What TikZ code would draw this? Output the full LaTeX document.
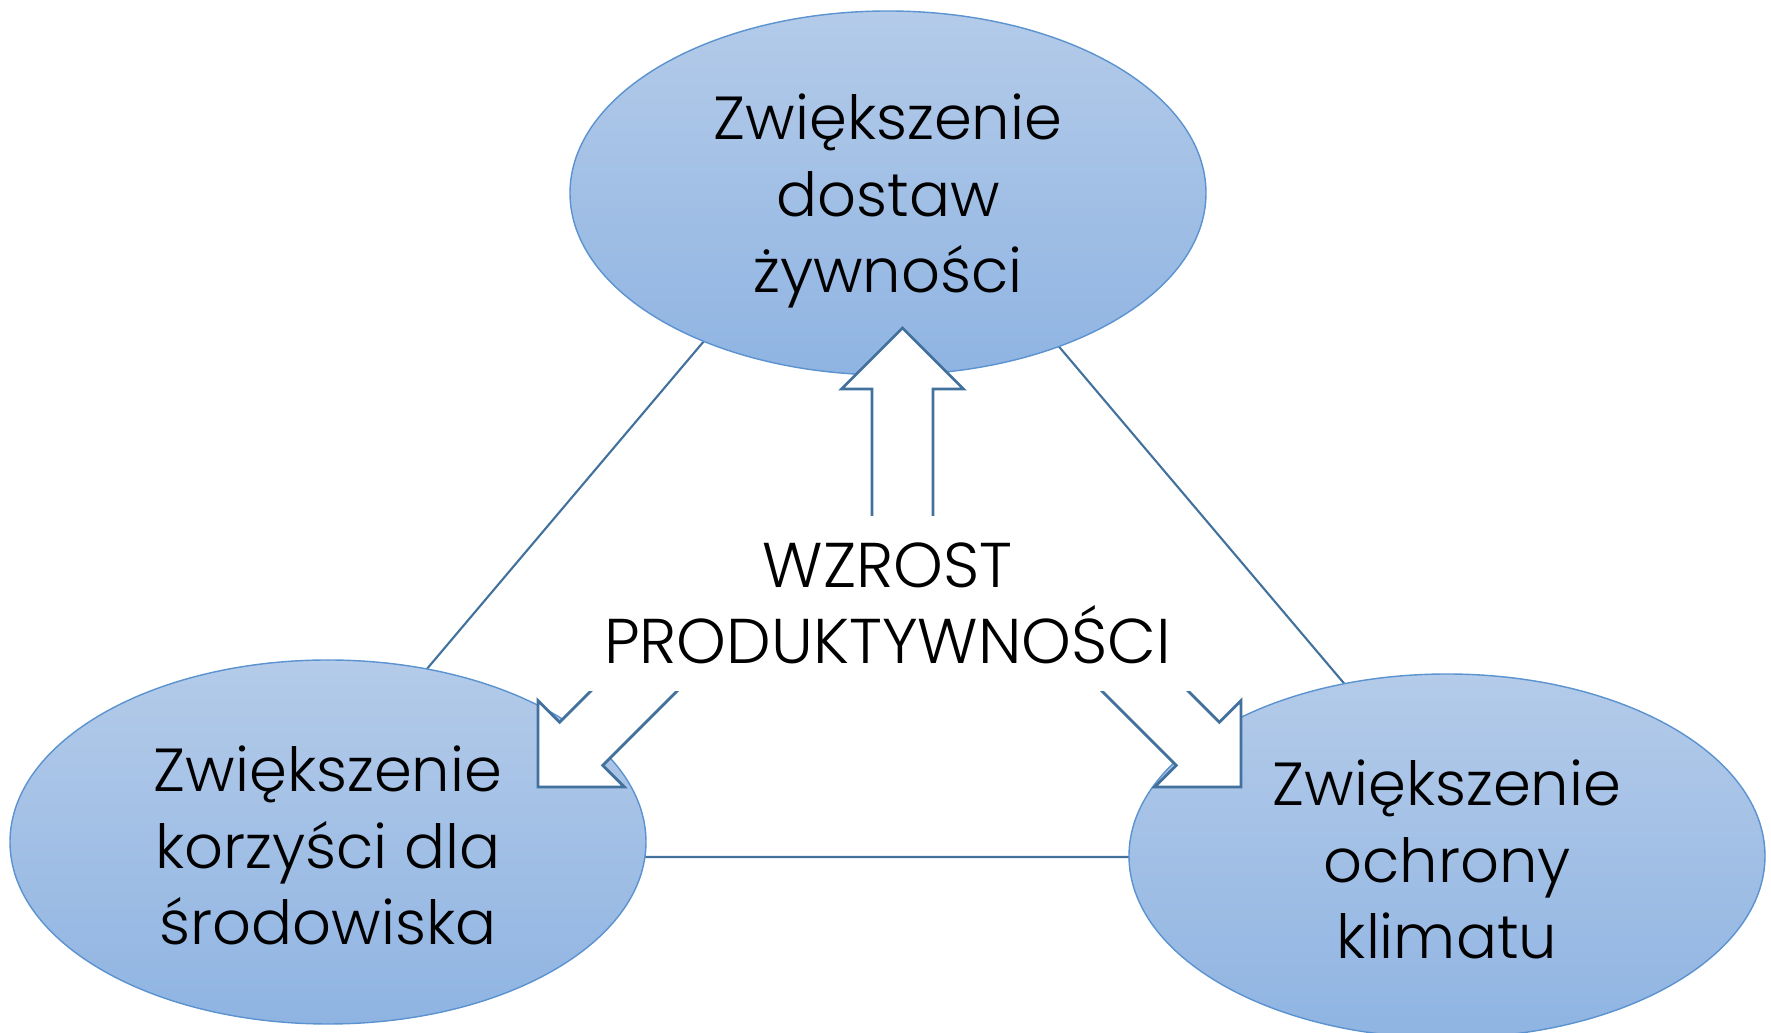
\documentclass[tikz,border=0pt]{standalone}
\usepackage{fontspec}
\setmainfont{Poppins}[UprightFont=* Light]
\usetikzlibrary{calc,shapes.geometric}
\definecolor{ovaltop}{RGB}{180,203,233}
\definecolor{ovalbot}{RGB}{143,180,226}
\definecolor{ovaledge}{RGB}{91,146,208}
\definecolor{steel}{RGB}{65,113,156}

\begin{document}
\begin{tikzpicture}
\tikzstyle{goal}=[ellipse,draw=ovaledge,line width=0.4pt,top color=ovaltop,bottom color=ovalbot,minimum width=6.36cm,minimum height=3.64cm,inner sep=0pt]
\tikzstyle{goaltext}=[align=center,inner sep=0pt,font=\fontsize{17.3}{21.8}\selectfont]

\tikzstyle{blockarrow}=[draw=steel,fill=white,line width=0.8pt,line join=miter]

\tikzstyle{link}=[draw=steel,line width=0.6pt]

\useasboundingbox (0,0) rectangle (17.71,10.33);

% triangle behind the ovals
\coordinate (apex) at (8.79,8.99);
\coordinate (baseL) at (2.68,1.76);
\coordinate (baseR) at (14.91,1.76);
\draw [link] (apex) -- (baseL) -- (baseR) -- cycle;

\node (food) at (8.88,8.40) [goal,label={[goaltext,yshift=-0.08cm]center:{Zwiększenie\\dostaw\\żywności}}] {};
\node (env) at (3.28,1.91) [goal,label={[goaltext,yshift=-0.035cm]center:{Zwiększenie\\korzyści dla\\środowiska}}] {};
\node (clim) at (14.47,1.77) [goal,label={[goaltext,yshift=-0.035cm]center:{Zwiększenie\\ochrony\\klimatu}}] {};

% block arrows, tails hidden under the centre box
\coordinate (tipU) at (9.025,7.05);
\coordinate (tipL) at (5.38,2.46);
\coordinate (tipR) at (12.41,2.46);
\draw [blockarrow,shift={(tipU)},rotate=0] (0,0) -- (-0.61,-0.61) -- (-0.305,-0.61) -- (-0.305,-2.6) -- (0.305,-2.6) -- (0.305,-0.61) -- (0.61,-0.61) -- cycle;
\draw [blockarrow,shift={(tipL)},rotate=135] (0,0) -- (-0.61,-0.61) -- (-0.305,-0.61) -- (-0.305,-2.8) -- (0.305,-2.8) -- (0.305,-0.61) -- (0.61,-0.61) -- cycle;
\draw [blockarrow,shift={(tipR)},rotate=-135] (0,0) -- (-0.61,-0.61) -- (-0.305,-0.61) -- (-0.305,-2.8) -- (0.305,-2.8) -- (0.305,-0.61) -- (0.61,-0.61) -- cycle;

\node (prod) at (8.875,4.295) [fill=white,minimum width=6.05cm,minimum height=1.75cm,inner sep=0pt,align=center,font=\fontsize{18}{21.8}\selectfont] {WZROST\\PRODUKTYWNOŚCI};

\end{tikzpicture}
\end{document}
